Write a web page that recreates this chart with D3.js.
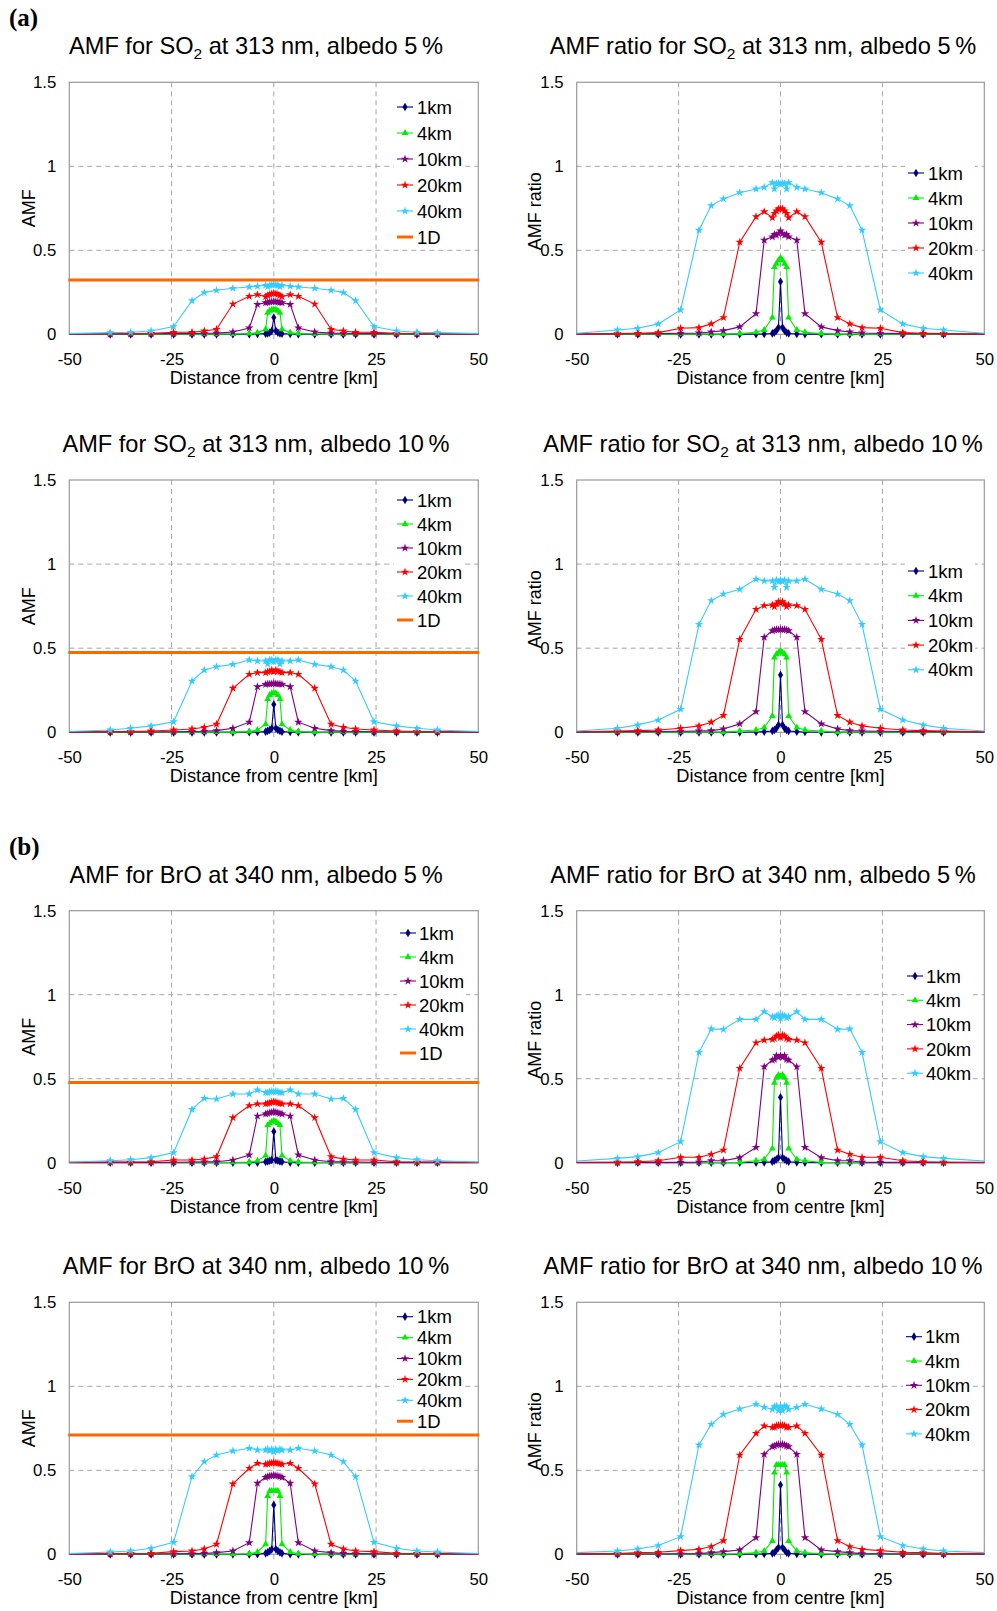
<!DOCTYPE html>
<html><head><meta charset="utf-8">
<script src="https://cdn.jsdelivr.net/npm/d3@7"></script>
<style>
body{margin:0;background:#fff}
svg{display:block}
text{font-family:"Liberation Sans",Arial,Helvetica,sans-serif;fill:#000}
</style>
</head><body>
<svg id="c" width="997" height="1611"></svg>
<script>
// ---------- DATA ----------
const distances = [-50,-40,-35,-30,-24.5,-20,-17,-14,-10,-6,-4,-2,-1.5,-1,-0.5,0,0.5,1,1.5,2,4,6,10,14,17,20,24.5,30,35,40,50];
const seriesNames = ["1km","4km","10km","20km","40km"];
const xTicks = [-50,-25,0,25,50];
const yTicks = [0,0.5,1,1.5];

// (a) SO2, AMF, albedo 5 %
const so2_amf5_1km  = [0,0,0,0,0,0,0,0,0,0.001,0.002,0.004,0.006,0.010,0.020,0.100,0.020,0.010,0.006,0.004,0.002,0.001,0,0,0,0,0,0,0,0,0];
const so2_amf5_4km  = [0.001,0.001,0.001,0.001,0.001,0.001,0.001,0.001,0.002,0.004,0.010,0.030,0.128,0.140,0.146,0.148,0.146,0.140,0.128,0.030,0.010,0.004,0.002,0.001,0.001,0.001,0.001,0.001,0.001,0.001,0.001];
const so2_amf5_10km = [0.001,0.002,0.002,0.003,0.004,0.005,0.006,0.007,0.014,0.038,0.178,0.188,0.190,0.192,0.194,0.196,0.194,0.192,0.190,0.188,0.178,0.038,0.014,0.007,0.006,0.005,0.004,0.003,0.002,0.002,0.001];
const so2_amf5_20km = [0.002,0.003,0.004,0.006,0.012,0.012,0.020,0.030,0.180,0.226,0.236,0.224,0.232,0.238,0.242,0.244,0.242,0.238,0.232,0.224,0.236,0.226,0.180,0.030,0.020,0.012,0.012,0.006,0.004,0.003,0.002];
const so2_amf5_40km = [0.004,0.010,0.012,0.020,0.046,0.200,0.248,0.262,0.274,0.282,0.286,0.292,0.284,0.292,0.294,0.294,0.294,0.292,0.284,0.292,0.286,0.282,0.274,0.262,0.248,0.200,0.046,0.020,0.012,0.010,0.004];
const so2_amf5_1D = 0.323;

// (a) SO2, AMF ratio, albedo 5 %
const so2_ratio5_1km  = [0,0,0,0,0,0,0,0,0.001,0.001,0.002,0.005,0.010,0.022,0.040,0.313,0.040,0.022,0.010,0.005,0.002,0.001,0.001,0,0,0,0,0,0,0,0];
const so2_ratio5_4km  = [0.001,0.001,0.001,0.001,0.001,0.001,0.001,0.001,0.004,0.012,0.026,0.100,0.400,0.420,0.440,0.455,0.440,0.420,0.400,0.100,0.026,0.012,0.004,0.001,0.001,0.001,0.001,0.001,0.001,0.001,0.001];
const so2_ratio5_10km = [0.001,0.002,0.003,0.004,0.006,0.008,0.014,0.022,0.044,0.123,0.560,0.580,0.595,0.590,0.600,0.615,0.600,0.590,0.595,0.580,0.560,0.123,0.044,0.022,0.014,0.008,0.006,0.004,0.003,0.002,0.001];
const so2_ratio5_20km = [0.002,0.004,0.006,0.010,0.036,0.040,0.062,0.100,0.548,0.700,0.730,0.694,0.720,0.734,0.746,0.748,0.746,0.734,0.720,0.694,0.730,0.700,0.548,0.100,0.062,0.040,0.036,0.010,0.006,0.004,0.002];
const so2_ratio5_40km = [0.006,0.026,0.036,0.062,0.145,0.620,0.766,0.806,0.843,0.865,0.875,0.903,0.865,0.897,0.900,0.893,0.900,0.897,0.865,0.903,0.875,0.865,0.843,0.806,0.766,0.620,0.145,0.062,0.036,0.026,0.006];

// (a) SO2, AMF, albedo 10 %
const so2_amf10_1km  = [0,0,0,0,0,0,0,0,0,0.001,0.002,0.004,0.008,0.014,0.024,0.166,0.024,0.014,0.008,0.004,0.002,0.001,0,0,0,0,0,0,0,0,0];
const so2_amf10_4km  = [0.001,0.001,0.001,0.001,0.001,0.001,0.001,0.001,0.001,0.004,0.014,0.048,0.198,0.222,0.232,0.232,0.232,0.222,0.198,0.048,0.014,0.004,0.001,0.001,0.001,0.001,0.001,0.001,0.001,0.001,0.001];
const so2_amf10_10km = [0.001,0.002,0.002,0.002,0.003,0.005,0.006,0.010,0.024,0.060,0.271,0.285,0.287,0.288,0.289,0.291,0.289,0.288,0.287,0.285,0.271,0.060,0.024,0.010,0.006,0.005,0.003,0.002,0.002,0.002,0.001];
const so2_amf10_20km = [0.002,0.004,0.005,0.008,0.014,0.020,0.030,0.048,0.262,0.345,0.355,0.355,0.360,0.362,0.370,0.360,0.370,0.362,0.360,0.355,0.355,0.345,0.262,0.048,0.030,0.020,0.014,0.008,0.005,0.004,0.002];
const so2_amf10_40km = [0.005,0.014,0.024,0.038,0.063,0.305,0.370,0.390,0.404,0.430,0.424,0.424,0.406,0.430,0.430,0.420,0.430,0.430,0.406,0.424,0.424,0.430,0.404,0.390,0.370,0.305,0.063,0.038,0.024,0.014,0.005];
const so2_amf10_1D = 0.474;

// (a) SO2, AMF ratio, albedo 10 %
const so2_ratio10_1km  = [0,0,0,0,0,0,0,0,0,0.002,0.004,0.008,0.014,0.024,0.044,0.341,0.044,0.024,0.014,0.008,0.004,0.002,0,0,0,0,0,0,0,0,0];
const so2_ratio10_4km  = [0.001,0.001,0.001,0.001,0.001,0.001,0.001,0.001,0.008,0.014,0.028,0.097,0.444,0.464,0.474,0.485,0.474,0.464,0.444,0.097,0.028,0.014,0.008,0.001,0.001,0.001,0.001,0.001,0.001,0.001,0.001];
const so2_ratio10_10km = [0.001,0.004,0.004,0.005,0.006,0.008,0.010,0.020,0.050,0.123,0.565,0.604,0.608,0.612,0.610,0.612,0.610,0.612,0.608,0.604,0.565,0.123,0.050,0.020,0.010,0.008,0.006,0.005,0.004,0.004,0.001];
const so2_ratio10_20km = [0.003,0.008,0.010,0.014,0.024,0.038,0.060,0.100,0.553,0.731,0.753,0.757,0.747,0.763,0.777,0.767,0.777,0.763,0.747,0.757,0.753,0.731,0.553,0.100,0.060,0.038,0.024,0.014,0.010,0.008,0.003];
const so2_ratio10_40km = [0.008,0.024,0.044,0.073,0.137,0.642,0.783,0.822,0.850,0.911,0.900,0.900,0.862,0.905,0.896,0.905,0.896,0.905,0.862,0.900,0.900,0.911,0.850,0.822,0.783,0.642,0.137,0.073,0.044,0.024,0.008];

// (b) BrO, AMF, albedo 5 %
const bro_amf5_1km  = [0,0,0,0,0,0,0,0,0,0,0.001,0.006,0.008,0.012,0.016,0.185,0.016,0.012,0.008,0.006,0.001,0,0,0,0,0,0,0,0,0,0];
const bro_amf5_4km  = [0.001,0.001,0.001,0.001,0.001,0.001,0.001,0.001,0.002,0.003,0.012,0.042,0.224,0.234,0.244,0.248,0.244,0.234,0.224,0.042,0.012,0.003,0.002,0.001,0.001,0.001,0.001,0.001,0.001,0.001,0.001];
const bro_amf5_10km = [0.001,0.002,0.002,0.002,0.003,0.004,0.005,0.006,0.016,0.046,0.278,0.290,0.294,0.298,0.300,0.304,0.300,0.298,0.294,0.290,0.278,0.046,0.016,0.006,0.005,0.004,0.003,0.002,0.002,0.002,0.001];
const bro_amf5_20km = [0.002,0.004,0.004,0.006,0.016,0.016,0.022,0.036,0.268,0.340,0.350,0.350,0.353,0.356,0.360,0.363,0.360,0.356,0.353,0.350,0.350,0.340,0.268,0.036,0.022,0.016,0.016,0.006,0.004,0.004,0.002];
const bro_amf5_40km = [0.004,0.012,0.018,0.030,0.060,0.317,0.383,0.379,0.409,0.409,0.433,0.417,0.417,0.423,0.425,0.423,0.425,0.423,0.417,0.417,0.433,0.409,0.409,0.379,0.383,0.317,0.060,0.030,0.018,0.012,0.004];
const bro_amf5_1D = 0.478;

// (b) BrO, AMF ratio, albedo 5 %
const bro_ratio5_1km  = [0,0,0,0,0,0,0,0,0,0.001,0.002,0.006,0.012,0.020,0.030,0.389,0.030,0.020,0.012,0.006,0.002,0.001,0,0,0,0,0,0,0,0,0];
const bro_ratio5_4km  = [0.001,0.001,0.001,0.001,0.001,0.001,0.001,0.001,0.002,0.012,0.020,0.085,0.476,0.506,0.522,0.512,0.522,0.506,0.476,0.085,0.020,0.012,0.002,0.001,0.001,0.001,0.001,0.001,0.001,0.001,0.001];
const bro_ratio5_10km = [0.001,0.002,0.002,0.002,0.002,0.003,0.012,0.012,0.030,0.091,0.571,0.611,0.615,0.637,0.627,0.637,0.627,0.637,0.615,0.611,0.571,0.091,0.030,0.012,0.012,0.003,0.002,0.002,0.002,0.002,0.001];
const bro_ratio5_20km = [0.003,0.003,0.006,0.012,0.032,0.032,0.050,0.075,0.562,0.714,0.730,0.734,0.740,0.754,0.760,0.745,0.760,0.754,0.740,0.734,0.730,0.714,0.562,0.075,0.050,0.032,0.032,0.012,0.006,0.003,0.003];
const bro_ratio5_40km = [0.010,0.026,0.036,0.060,0.125,0.657,0.796,0.794,0.853,0.853,0.899,0.869,0.863,0.873,0.879,0.859,0.879,0.873,0.863,0.869,0.899,0.853,0.853,0.794,0.796,0.657,0.125,0.060,0.036,0.026,0.010];

// (b) BrO, AMF, albedo 10 %
const bro_amf10_1km  = [0,0,0,0,0,0,0,0,0,0,0.001,0.006,0.012,0.020,0.030,0.294,0.030,0.020,0.012,0.006,0.001,0,0,0,0,0,0,0,0,0,0];
const bro_amf10_4km  = [0.001,0.001,0.001,0.001,0.001,0.001,0.001,0.001,0.001,0.003,0.014,0.060,0.347,0.377,0.377,0.377,0.377,0.377,0.347,0.060,0.014,0.003,0.001,0.001,0.001,0.001,0.001,0.001,0.001,0.001,0.001];
const bro_amf10_10km = [0.001,0.002,0.002,0.002,0.003,0.004,0.005,0.010,0.020,0.069,0.423,0.458,0.462,0.466,0.468,0.472,0.468,0.466,0.462,0.458,0.423,0.069,0.020,0.010,0.005,0.004,0.003,0.002,0.002,0.002,0.001];
const bro_amf10_20km = [0.002,0.004,0.005,0.006,0.016,0.020,0.032,0.060,0.419,0.512,0.542,0.536,0.538,0.542,0.544,0.546,0.544,0.542,0.538,0.536,0.542,0.512,0.419,0.060,0.032,0.020,0.016,0.006,0.005,0.004,0.002];
const bro_amf10_40km = [0.004,0.014,0.020,0.036,0.071,0.462,0.552,0.591,0.615,0.631,0.621,0.621,0.625,0.617,0.625,0.610,0.625,0.617,0.625,0.621,0.621,0.631,0.615,0.591,0.552,0.462,0.071,0.036,0.020,0.014,0.004];
const bro_amf10_1D = 0.710;

// (b) BrO, AMF ratio, albedo 10 %
const bro_ratio10_1km  = [0,0,0,0,0,0,0,0,0,0.001,0.002,0.006,0.010,0.026,0.040,0.413,0.040,0.026,0.010,0.006,0.002,0.001,0,0,0,0,0,0,0,0,0];
const bro_ratio10_4km  = [0.001,0.001,0.001,0.001,0.001,0.001,0.001,0.001,0.003,0.010,0.020,0.079,0.486,0.532,0.532,0.532,0.532,0.532,0.486,0.079,0.020,0.010,0.003,0.001,0.001,0.001,0.001,0.001,0.001,0.001,0.001];
const bro_ratio10_10km = [0.001,0.002,0.002,0.002,0.003,0.004,0.010,0.016,0.026,0.099,0.595,0.641,0.645,0.651,0.655,0.651,0.655,0.651,0.645,0.641,0.595,0.099,0.026,0.016,0.010,0.004,0.003,0.002,0.002,0.002,0.001];
const bro_ratio10_20km = [0.004,0.004,0.010,0.012,0.022,0.030,0.046,0.081,0.591,0.720,0.764,0.756,0.756,0.766,0.768,0.766,0.768,0.766,0.756,0.756,0.764,0.720,0.591,0.081,0.046,0.030,0.022,0.012,0.010,0.004,0.004];
const bro_ratio10_40km = [0.010,0.020,0.032,0.052,0.105,0.651,0.774,0.833,0.865,0.893,0.875,0.863,0.879,0.883,0.855,0.879,0.855,0.883,0.879,0.863,0.875,0.893,0.865,0.833,0.774,0.651,0.105,0.052,0.032,0.020,0.010];

// ---------- STYLE / LAYOUT ----------
const colors = ["#00007f","#00ee00","#800080","#ff0000","#33ccff"];
const oneDColor = "#ff6600";
const symbols = [d3.symbolDiamond, d3.symbolTriangle, d3.symbolStar, d3.symbolStar, d3.symbolStar];
const symSizes = [22, 20, 22, 22, 22];
const gridColor = "#a6a6a6";

const colX = [{x0:69.3, x1:478.3, tc:256, yl:28}, {x0:576.7, x1:984.3, tc:763, yl:534}];
const rows = [{top:82.3, bot:334.3}, {top:480, bot:732.3}, {top:910.7, bot:1162.7}, {top:1302.3, bot:1554.3}];

const panels = [
  {row:0,col:0,pre:"AMF for SO",sub:"2",post:" at 313 nm, albedo 5\u2009%",ylab:"AMF",
   data:[so2_amf5_1km,so2_amf5_4km,so2_amf5_10km,so2_amf5_20km,so2_amf5_40km],oneD:so2_amf5_1D,
   leg:{lx:397,tx:417,y0:107,dy:26}},
  {row:0,col:1,pre:"AMF ratio for SO",sub:"2",post:" at 313 nm, albedo 5\u2009%",ylab:"AMF ratio",
   data:[so2_ratio5_1km,so2_ratio5_4km,so2_ratio5_10km,so2_ratio5_20km,so2_ratio5_40km],oneD:null,
   leg:{lx:908,tx:928,y0:173,dy:25}},
  {row:1,col:0,pre:"AMF for SO",sub:"2",post:" at 313 nm, albedo 10\u2009%",ylab:"AMF",
   data:[so2_amf10_1km,so2_amf10_4km,so2_amf10_10km,so2_amf10_20km,so2_amf10_40km],oneD:so2_amf10_1D,
   leg:{lx:397,tx:417,y0:500,dy:24}},
  {row:1,col:1,pre:"AMF ratio for SO",sub:"2",post:" at 313 nm, albedo 10\u2009%",ylab:"AMF ratio",
   data:[so2_ratio10_1km,so2_ratio10_4km,so2_ratio10_10km,so2_ratio10_20km,so2_ratio10_40km],oneD:null,
   leg:{lx:908,tx:928,y0:571,dy:24.7}},
  {row:2,col:0,pre:"AMF for BrO at 340 nm, albedo 5\u2009%",sub:"",post:"",ylab:"AMF",
   data:[bro_amf5_1km,bro_amf5_4km,bro_amf5_10km,bro_amf5_20km,bro_amf5_40km],oneD:bro_amf5_1D,
   leg:{lx:400,tx:419,y0:933,dy:24}},
  {row:2,col:1,pre:"AMF ratio for BrO at 340 nm, albedo 5\u2009%",sub:"",post:"",ylab:"AMF ratio",
   data:[bro_ratio5_1km,bro_ratio5_4km,bro_ratio5_10km,bro_ratio5_20km,bro_ratio5_40km],oneD:null,
   leg:{lx:907,tx:926,y0:976,dy:24.3}},
  {row:3,col:0,pre:"AMF for BrO at 340 nm, albedo 10\u2009%",sub:"",post:"",ylab:"AMF",
   data:[bro_amf10_1km,bro_amf10_4km,bro_amf10_10km,bro_amf10_20km,bro_amf10_40km],oneD:bro_amf10_1D,
   leg:{lx:397,tx:417,y0:1316.7,dy:20.9}},
  {row:3,col:1,pre:"AMF ratio for BrO at 340 nm, albedo 10\u2009%",sub:"",post:"",ylab:"AMF ratio",
   data:[bro_ratio10_1km,bro_ratio10_4km,bro_ratio10_10km,bro_ratio10_20km,bro_ratio10_40km],oneD:null,
   leg:{lx:906,tx:925,y0:1336.7,dy:24.3}}
];

const svg = d3.select("#c");
svg.append("rect").attr("width",997).attr("height",1611).attr("fill","#fff");

// Panel labels
svg.append("text").attr("x",9).attr("y",26).text("(a)")
  .style("font-family","'Liberation Serif','Times New Roman',serif").style("font-weight","bold").style("font-size","25px");
svg.append("text").attr("x",9).attr("y",855).text("(b)")
  .style("font-family","'Liberation Serif','Times New Roman',serif").style("font-weight","bold").style("font-size","25px");

panels.forEach(p => {
  const c = colX[p.col], r = rows[p.row];
  const x = d3.scaleLinear().domain([-50,50]).range([c.x0, c.x1]);
  const y = d3.scaleLinear().domain([0,1.5]).range([r.bot, r.top]);
  const g = svg.append("g");

  // title
  const t = g.append("text").attr("x", c.tc).attr("y", r.top - 28)
    .attr("text-anchor","middle").style("font-size","23.6px");
  t.append("tspan").text(p.pre);
  if (p.sub) {
    t.append("tspan").attr("dy",5).style("font-size","15.5px").text(p.sub);
    t.append("tspan").attr("dy",-5).text(p.post);
  }

  // gridlines
  g.selectAll(".hg").data([0.5,1]).enter().append("line")
    .attr("x1", c.x0).attr("x2", c.x1).attr("y1", d=>y(d)).attr("y2", d=>y(d))
    .attr("stroke", gridColor).attr("stroke-width",1).attr("stroke-dasharray","5,4");
  g.selectAll(".vg").data([-25,0,25]).enter().append("line")
    .attr("x1", d=>x(d)).attr("x2", d=>x(d)).attr("y1", r.top).attr("y2", r.bot + 6)
    .attr("stroke", gridColor).attr("stroke-width",1).attr("stroke-dasharray","5,4");

  // plot frame
  g.append("rect").attr("x", c.x0).attr("y", r.top).attr("width", c.x1 - c.x0).attr("height", r.bot - r.top)
    .attr("fill","none").attr("stroke","#999").attr("stroke-width",1.2);

  // axes (labels only)
  const xa = g.append("g").attr("transform",`translate(0,${r.bot})`)
    .call(d3.axisBottom(x).tickValues(xTicks).tickSize(0).tickPadding(19).tickFormat(d => String(d)));
  xa.select(".domain").remove();
  xa.selectAll("text").style("font-size","16.8px").style("font-family","'Liberation Sans',Arial,sans-serif");
  const ya = g.append("g").attr("transform",`translate(${c.x0},0)`)
    .call(d3.axisLeft(y).tickValues(yTicks).tickSize(0).tickPadding(13).tickFormat(d => String(d)));
  ya.select(".domain").remove();
  ya.selectAll("text").style("font-size","16.8px").style("font-family","'Liberation Sans',Arial,sans-serif");

  // axis titles
  g.append("text").attr("x", (c.x0 + c.x1)/2).attr("y", r.bot + 50).attr("text-anchor","middle")
    .style("font-size","18.3px").text("Distance from centre [km]");
  const yc = (r.top + r.bot)/2 + (p.col ? 3 : 0);
  g.append("text").attr("transform",`translate(${c.yl + 6.5},${yc}) rotate(-90)`).attr("text-anchor","middle")
    .style("font-size","18px").text(p.ylab);

  // 1D line
  if (p.oneD !== null) {
    g.append("line").attr("x1", c.x0 - 1).attr("x2", c.x1 + 1).attr("y1", y(p.oneD)).attr("y2", y(p.oneD))
      .attr("stroke", oneDColor).attr("stroke-width", 3);
  }

  // series
  const line = d3.line().x((d,i)=>x(distances[i])).y(d=>y(d));
  p.data.forEach((vals, si) => {
    g.append("path").datum(vals).attr("d", line).attr("fill","none")
      .attr("stroke", colors[si]).attr("stroke-width", 1.1);
    const sym = d3.symbol().type(symbols[si]).size(symSizes[si]);
    g.selectAll(null).data(vals.map((v,i)=>[distances[i], v]).filter(d => Math.abs(d[0]) < 50))
      .enter().append("path").attr("d", sym)
      .attr("transform", d => `translate(${x(d[0])},${y(d[1])})`)
      .attr("fill", colors[si]);
  });

  // legend
  const L = p.leg;
  const entries = seriesNames.map((n,i)=>({name:n, color:colors[i], sym:symbols[i], size:symSizes[i], w:1.1}));
  if (p.oneD !== null) entries.push({name:"1D", color:oneDColor, sym:null, w:3});
  const lg = g.append("g");
  lg.append("rect").attr("x", L.lx - 3).attr("y", L.y0 - 11)
    .attr("width", (L.tx + 47) - (L.lx - 3)).attr("height", (entries.length - 1) * L.dy + 22)
    .attr("fill","#fff");
  entries.forEach((e,i) => {
    const yy = L.y0 + i * L.dy;
    lg.append("line").attr("x1", L.lx).attr("x2", L.lx + 16).attr("y1", yy).attr("y2", yy)
      .attr("stroke", e.color).attr("stroke-width", e.w);
    if (e.sym) lg.append("path").attr("d", d3.symbol().type(e.sym).size(e.size)()).attr("transform",`translate(${L.lx+8},${yy})`).attr("fill", e.color);
    lg.append("text").attr("x", L.tx).attr("y", yy + 6.6).style("font-size","18.5px").text(e.name);
  });
});
</script>
</body></html>
